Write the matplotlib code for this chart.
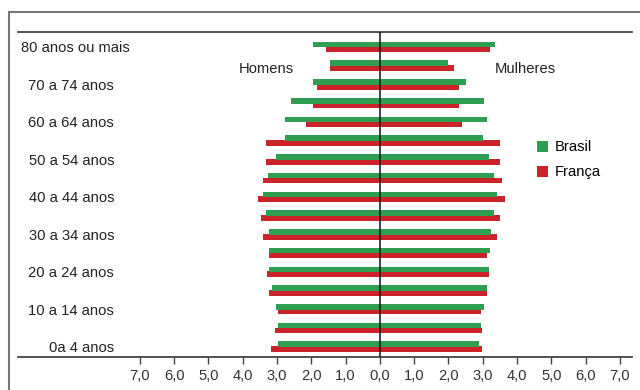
import matplotlib.pyplot as plt
import numpy as np
from matplotlib.patches import Rectangle

plt.rcParams['font.family'] = ['Liberation Sans', 'DejaVu Sans']

# faixas etarias, de baixo para cima
faixas = ['0a 4 anos', '5 a 9 anos', '10 a 14 anos', '15 a 19 anos', '20 a 24 anos',
          '25 a 29 anos', '30 a 34 anos', '35 a 39 anos', '40 a 44 anos', '45 a 49 anos',
          '50 a 54 anos', '55 a 59 anos', '60 a 64 anos', '65 a 69 anos', '70 a 74 anos',
          '75 a 79 anos', '80 anos ou mais']

# % da populacao
brasil_homens = [2.98, 2.98, 3.02, 3.14, 3.23, 3.23, 3.23, 3.33, 3.41, 3.27,
                 3.02, 2.77, 2.77, 2.59, 1.95, 1.46, 1.95]
brasil_mulheres = [2.90, 2.94, 3.03, 3.12, 3.17, 3.20, 3.25, 3.33, 3.41, 3.33,
                   3.17, 3.02, 3.12, 3.03, 2.51, 2.00, 3.37]
franca_homens = [3.16, 3.07, 2.98, 3.23, 3.28, 3.23, 3.41, 3.46, 3.54, 3.41,
                 3.33, 3.33, 2.16, 1.95, 1.82, 1.46, 1.56]
franca_mulheres = [2.99, 2.99, 2.94, 3.12, 3.17, 3.12, 3.41, 3.50, 3.64, 3.56,
                   3.51, 3.51, 2.38, 2.30, 2.30, 2.16, 3.20]

ticks = [-7, -6, -5, -4, -3, -2, -1, 0, 1, 2, 3, 4, 5, 6, 7]

verde = '#2f9e50'
vermelho = '#cc2229'
fs = 10.6

fig = plt.figure(figsize=(6.4, 3.9), dpi=100)
ax = fig.add_axes([18/640, 1 - 357/390, (632 - 18)/640, (357 - 32)/390])

y = np.arange(len(faixas))
h = 0.3
ax.barh(y + 0.13, -np.array(brasil_homens), height=h, color=verde, label='Brasil', zorder=3)
ax.barh(y + 0.13, brasil_mulheres, height=h, color=verde, zorder=3)
ax.barh(y - 0.13, -np.array(franca_homens), height=h, color=vermelho, label='França', zorder=2)
ax.barh(y - 0.13, franca_mulheres, height=h, color=vermelho, zorder=2)

ax.set_xlim(-10.55, 7.35)
ax.set_ylim(-0.55, 16.8)
ax.axvline(0, color='#111111', lw=1.1, zorder=4)

# rotulos das faixas (uma sim, outra nao)
for i in range(0, len(faixas), 2):
    if i == len(faixas) - 1:
        ax.text(-10.45, y[i] - 0.08, faixas[i], ha='left', va='center', fontsize=fs, color='#222222')
    else:
        ax.text(-7.75, y[i] - 0.08, faixas[i], ha='right', va='center', fontsize=fs, color='#222222')

ax.text(-3.32, 14.85, 'Homens', ha='center', va='center', fontsize=fs, color='#222222')
ax.text(4.23, 14.85, 'Mulheres', ha='center', va='center', fontsize=fs, color='#222222')

ax.set_xticks(ticks)
ax.set_xticklabels([f'{abs(t):.1f}'.replace('.', ',') for t in ticks], fontsize=fs, color='#333333')
ax.set_yticks([])
ax.tick_params(axis='x', direction='out', length=5, width=1, color='#444444', pad=4)

for s in ['left', 'right']:
    ax.spines[s].set_visible(False)
for s in ['top', 'bottom']:
    ax.spines[s].set_color('#444444')
    ax.spines[s].set_linewidth(1.3)

ax.legend(loc='upper left', bbox_to_anchor=(524/640, 1 - 127/390), bbox_transform=fig.transFigure,
          frameon=False, handlelength=0.75, handleheight=0.75, handletextpad=0.45,
          labelspacing=0.75, fontsize=fs)

# moldura externa
fig.patches.append(Rectangle((9/640, -0.1), 1.2, 1 - 12/390 + 0.1, transform=fig.transFigure,
                             fill=False, edgecolor='#777777', lw=1.5))

fig.savefig('out.png', dpi=100)
